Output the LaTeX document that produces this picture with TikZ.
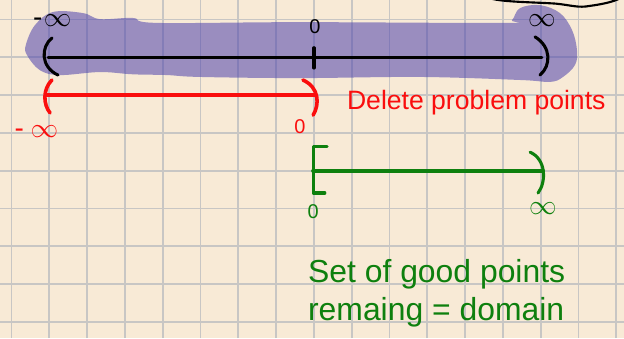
\documentclass[tikz,border=0pt]{standalone}
\usepackage{fontspec}
\setmainfont{Liberation Sans}
\definecolor{papel}{RGB}{248,234,214}
\definecolor{rejilla}{RGB}{200,198,196}
\definecolor{morado}{RGB}{77,66,173}
\definecolor{rojo}{RGB}{250,14,14}
\definecolor{verde}{RGB}{14,128,14}
\begin{document}
\begin{tikzpicture}[
    tinta/.style={line width=2.5pt, line cap=round},
    parentesis/.style={line width=2.3pt, line cap=round},
    infinito/.style={font=\fontsize{21}{21}\selectfont, inner sep=0pt},
    cero/.style={font=\fontsize{15}{15}\selectfont, inner sep=0pt}]
    % papel cuadriculado
    \fill[papel] (-0.304,0.516) rectangle (16.204,-8.426);
    \useasboundingbox (-0.304,0.516) rectangle (16.204,-8.426);
    \draw[rejilla, line width=1.25pt] (-0.304,0.516) grid (16.204,-8.426);

    % trazo negro arriba a la derecha
    \draw[line width=1.6pt, line cap=round] (12.66,0.56) .. controls (13.0,0.46) and (13.8,0.46) .. (14.4,0.42)
        .. controls (14.8,0.38) and (15.0,0.30) .. (15.3,0.36) .. controls (15.6,0.40) and (15.9,0.46) .. (16.1,0.56);

    % recta real resaltada
    \fill[morado, opacity=0.55] plot[smooth cycle, tension=0.6] coordinates {
        (0.38,-0.67) (0.62,-0.15) (1.10,0.20) (1.89,0.17) (2.34,0.01) (3.21,0.04) (3.85,-0.09)
        (7.63,-0.07) (13.0,-0.09) (13.24,-0.02) (13.45,0.30) (13.98,0.38) (14.51,0.17)
        (14.83,-0.28) (14.96,-0.81) (14.91,-1.20) (14.59,-1.52) (14.25,-1.65) (13.45,-1.60)
        (10.81,-1.52) (7.63,-1.55) (4.99,-1.52) (4.11,-1.47) (3.21,-1.45) (2.34,-1.39)
        (1.28,-1.47) (0.75,-1.34) (0.41,-0.94)};
    \coordinate (izq) at (0.97,-1);
    \coordinate (der) at (14.03,-1);
    \coordinate (medio) at (8,-1);
    \draw[tinta] (izq) -- (der);
    \draw[tinta] ([yshift=0.25cm]medio) -- ([yshift=-0.28cm]medio);
    \draw[parentesis] (1.07,-0.49) .. controls (0.78,-0.72) and (0.76,-1.25) .. (1.23,-1.47);
    \draw[parentesis] (13.85,-0.46) .. controls (14.28,-0.72) and (14.28,-1.22) .. (13.98,-1.47);
    \node[infinito] (menosinf) at (1.08,-0.04) {-\hspace{1pt}$\infty$};
    \node[cero] (cero) at (8.03,-0.2) {0};
    \node[infinito] (masinf) at (14.03,-0.04) {$\infty$};

    % puntos problema
    \coordinate (rizq) at (0.94,-2);
    \coordinate (rder) at (8.03,-2);
    \draw[rojo, tinta, line width=3pt] (rizq) -- (rder);
    \draw[rojo, parentesis, line width=2.7pt] (1.07,-1.60) .. controls (0.82,-1.85) and (0.84,-2.25) .. (1.02,-2.47);
    \draw[rojo, parentesis, line width=2.7pt] (7.71,-1.60) .. controls (8.15,-1.80) and (8.15,-2.25) .. (7.98,-2.53);
    \node[rojo, infinito] (rmenosinf) at (0.66,-2.96) {-\hspace{5pt}$\infty$};
    \node[rojo, cero] (rcero) at (7.63,-2.84) {0};
    \node[rojo, anchor=west, font=\fontsize{20}{20}\selectfont, inner sep=0pt] (borrar) at (8.87,-2.21) {Delete problem points};

    % dominio
    \coordinate (vizq) at (7.98,-4);
    \coordinate (vder) at (14.06,-4);
    \draw[verde, tinta, line width=3pt] (vizq) -- (vder);
    \draw[verde, parentesis, line join=round] (8.35,-3.37) -- (7.98,-3.37) -- (7.98,-4.59) -- (8.29,-4.59);
    \draw[verde, parentesis] (13.72,-3.51) .. controls (14.15,-3.70) and (14.15,-4.30) .. (13.93,-4.59);
    \node[verde, cero] (vcero) at (7.98,-5.09) {0};
    \node[verde, infinito] (vinf) at (14.06,-4.99) {$\infty$};
    \node[verde, anchor=base west, align=left, inner sep=0pt,
          font=\fontsize{24}{28.5}\selectfont] (dominio) at (7.84,-7.95)
          {Set of good points\\remaing = domain};
\end{tikzpicture}
\end{document}
